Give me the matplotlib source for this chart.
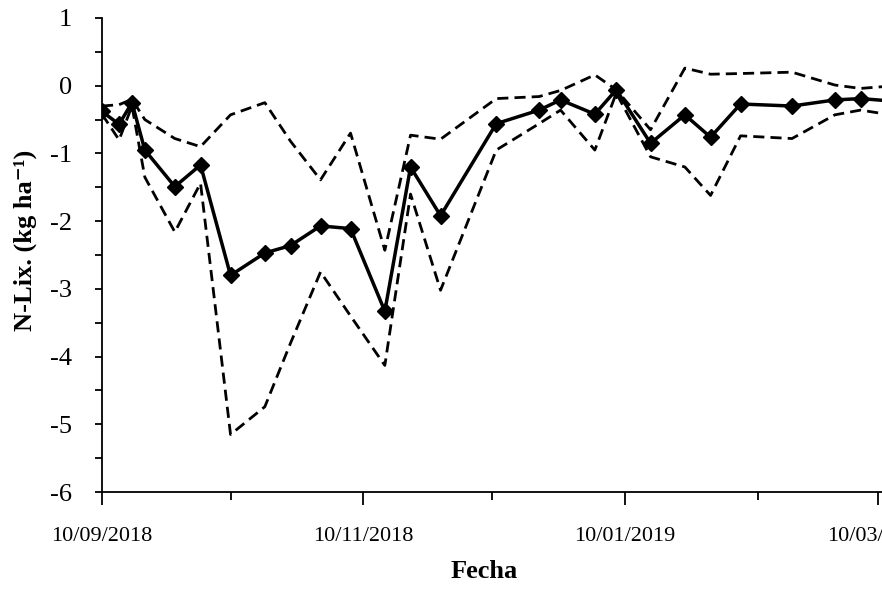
import matplotlib
matplotlib.use("Agg")
import matplotlib.pyplot as plt
import matplotlib.dates as mdates
import numpy as np
from datetime import date, timedelta

plt.rcParams['font.family'] = ['Liberation Serif', 'DejaVu Serif']
plt.rcParams['axes.unicode_minus'] = False

# days after 10/09/2018
dias = [0, 4, 7, 10, 17, 23, 30, 38, 44, 51, 58, 66, 72, 79, 92, 102, 107,
        115, 120, 128, 136, 142, 149, 161, 171, 177, 185]
media = [-0.38, -0.57, -0.25, -0.95, -1.49, -1.17, -2.80, -2.47, -2.36, -2.07,
         -2.11, -3.33, -1.20, -1.92, -0.56, -0.36, -0.21, -0.42, -0.06, -0.85,
         -0.43, -0.76, -0.27, -0.30, -0.21, -0.19, -0.23]
sup = [-0.30, -0.28, -0.20, -0.50, -0.78, -0.90, -0.43, -0.25, -0.82, -1.39,
       -0.70, -2.43, -0.73, -0.79, -0.19, -0.16, -0.07, 0.16, -0.06, -0.65,
       0.26, 0.17, 0.18, 0.20, 0.01, -0.04, 0.00]
inf = [-0.42, -0.80, -0.30, -1.35, -2.16, -1.44, -5.15, -4.74, -3.80, -2.75,
       -3.40, -4.13, -1.60, -3.02, -0.95, -0.56, -0.36, -0.95, -0.11, -1.05,
       -1.20, -1.62, -0.74, -0.78, -0.43, -0.36, -0.44]

inicio = date(2018, 9, 10)
fechas = [inicio + timedelta(days=d) for d in dias]

fig = plt.figure(figsize=(8.82, 5.9), dpi=100)
ax = fig.add_axes([0.1156, 0.166, 1 - 0.1156, 0.9695 - 0.166])

ax.plot(fechas, sup, color='black', lw=2, ls=(0, (4, 2.2)))
ax.plot(fechas, inf, color='black', lw=2, ls=(0, (4, 2.2)))
ax.plot(fechas, media, color='black', lw=2.5, marker='D', markersize=8)

ax.set_xlim(inicio, inicio + timedelta(days=182.9))
ax.set_ylim(-6, 1)
ax.set_yticks(np.arange(-6, 2, 1))
ax.set_yticks(np.arange(-6, 1.01, 0.5), minor=True)
ax.xaxis.set_major_locator(mdates.MonthLocator(bymonth=[1, 3, 5, 7, 9, 11], bymonthday=10))
ax.xaxis.set_minor_locator(mdates.MonthLocator(bymonthday=10))
ax.xaxis.set_major_formatter(mdates.DateFormatter('%d/%m/%Y'))

for s in ['top', 'right']:
    ax.spines[s].set_visible(False)
for s in ['left', 'bottom']:
    ax.spines[s].set_linewidth(1.3)

ax.tick_params(which='both', direction='out', width=1.3)
ax.tick_params(axis='y', which='both', length=5, labelsize=19, pad=16.5)
ax.tick_params(axis='x', which='major', length=9, labelsize=16, pad=16)
ax.tick_params(axis='x', which='minor', length=6)

ax.set_xlabel('Fecha', fontsize=19, fontweight='bold')
ax.xaxis.set_label_coords(0.49, -0.143)
ax.set_ylabel('N-Lix. (kg ha⁻¹)', fontsize=19, fontweight='bold')
ax.yaxis.set_label_coords(-0.083, 0.53)

fig.savefig('out.png', dpi=100)
